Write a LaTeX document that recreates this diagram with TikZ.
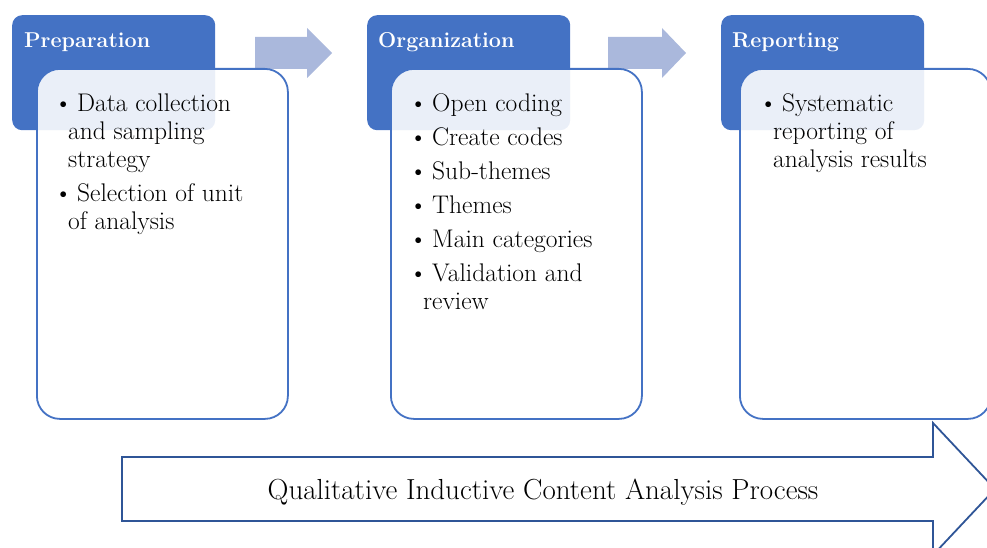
\documentclass[tikz,border=0pt]{standalone}
\definecolor{hdrblue}{HTML}{4472C4}
\definecolor{lightarrow}{HTML}{AAB8DC}
\definecolor{darkblue}{HTML}{2F5597}
\newcommand\bul[1]{\hbox{\makebox[19pt][l]{\hspace*{-4pt}\textbullet}#1}}
\newcommand\cont[1]{\hbox{\hspace*{10pt}#1}}
\newcommand\gap{\vskip6pt}
\begin{document}
\begin{tikzpicture}[x=1pt,y=-1pt,
  header/.style={draw=none, fill=hdrblue, rounded corners=10pt, minimum width=203pt, minimum height=115pt, anchor=north west, inner sep=0pt},
  headtext/.style={anchor=base west, inner sep=0pt, text=white, font=\fontsize{21.5}{26}\selectfont\bfseries},
  content/.style={draw=hdrblue, line width=1.8pt, fill=white, fill opacity=0.89, rounded corners=23pt, minimum width=251pt, minimum height=350pt, anchor=north west, inner sep=0pt},
  listtext/.style={anchor=base west, inner sep=0pt, text=black, font=\fontsize{25.5}{28}\selectfont},
  blockarrow/.style={fill=lightarrow, draw=none},
  bigarrow/.style={fill=white, draw=darkblue, line width=1.8pt, line join=miter},
  bigtext/.style={anchor=base, inner sep=0pt, font=\fontsize{29}{32}\selectfont}
]
\useasboundingbox (0,0) rectangle (987,548);
\clip (0,0) rectangle (987,548);

% small block arrows
\fill[blockarrow] (255,37) -- (307,37) -- (307,28) -- (332,53) -- (307,78) -- (307,69) -- (255,69) -- cycle;
\fill[blockarrow] (608,37) -- (662,37) -- (662,28) -- (686,53) -- (662,78) -- (662,69) -- (608,69) -- cycle;

% headers
\node[header] (h1) at (12,15) {};
\node[header] (h2) at (367,15) {};
\node[header] (h3) at (721,15) {};
\node[headtext] (t1) at (24,48) {Preparation};
\node[headtext] (t2) at (378,48) {Organization};
\node[headtext] (t3) at (732,48) {Reporting};

% content boxes
\node[content] (c1) at (36,68) {};
\node[content] (c2) at (390,68) {};
\node[content] (c3) at (739,68) {};

% lists
\node[listtext] (l1) at (58,112) {\vtop{\bul{Data collection}\cont{and sampling}\cont{strategy}\gap\bul{Selection of unit}\cont{of analysis}}};
\node[listtext] (l2) at (413,112) {\vtop{\bul{Open coding}\gap\bul{Create codes}\gap\bul{Sub-themes}\gap\bul{Themes}\gap\bul{Main categories}\gap\bul{Validation and}\cont{review}}};
\node[listtext] (l3) at (763,112) {\vtop{\bul{Systematic}\cont{reporting of}\cont{analysis results}}};

% big process arrow
\draw[bigarrow] (122,457) -- (933,457) -- (933,423) -- (995,489) -- (933,555) -- (933,521) -- (122,521) -- cycle;
\node[bigtext] (bt) at (543,499) {Qualitative Inductive Content Analysis Process};
\end{tikzpicture}
\end{document}
